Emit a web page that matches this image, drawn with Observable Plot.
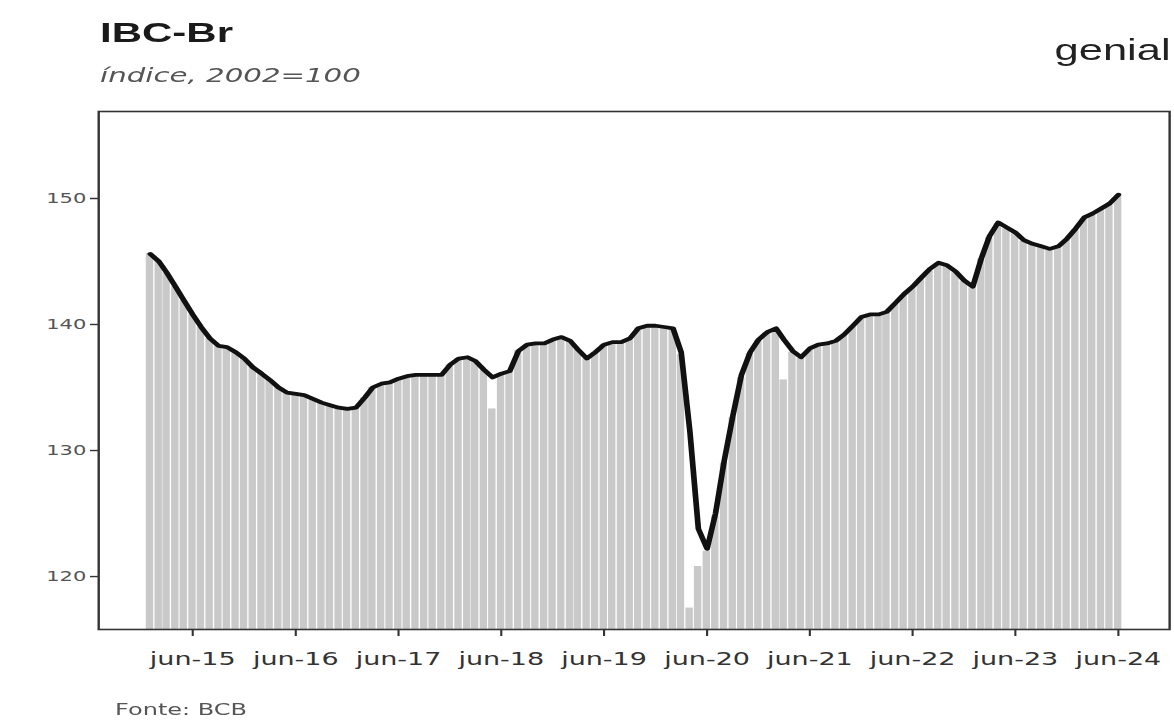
<!DOCTYPE html>
<html>
<head>
<meta charset="utf-8">
<script src="https://cdn.jsdelivr.net/npm/d3@7"></script>
<script src="https://cdn.jsdelivr.net/npm/@observablehq/plot@0.6"></script>
<style>
  html, body { margin: 0; padding: 0; background: #fff; overflow: hidden; }
  #wrap { position: relative; width: 782.67px; height: 722px; transform: scaleX(1.5); transform-origin: 0 0; }
  #header { position: relative; height: 96px; }
  .title { position: absolute; left: 66.7px; top: 19px; font: bold 28px "Liberation Sans", Arial, sans-serif; line-height: 28px; color: #1a1a1a; white-space: nowrap; }
  .subtitle { position: absolute; left: 66.7px; top: 65.5px; font: italic 19.5px "DejaVu Sans", sans-serif; line-height: 19.5px; color: #555; white-space: nowrap; }
  .logo { position: absolute; left: 703px; top: 36px; font: 29px "Liberation Sans", Arial, sans-serif; line-height: 29px; color: #222; white-space: nowrap; }
  #chart svg { display: block; }
  .caption { position: absolute; left: 76.7px; top: 702px; font: 16px "DejaVu Sans", sans-serif; line-height: 16px; color: #555; white-space: nowrap; }
</style>
</head>
<body>
<div id="wrap">
  <div id="header">
    <div class="title">IBC-Br</div>
    <div class="subtitle">índice, 2002=100</div>
    <div class="logo">genial</div>
  </div>
  <div id="chart"></div>
  <div class="caption">Fonte: BCB</div>
</div>
<script>
// ---- data ----
const startMonth = "2015-01-01";   // first month of the series (Jan 2015 .. Jun 2024)

// Monthly IBC-Br (bars)
const barValues = [
  145.6,145.0,144.1,143.0,141.9,140.8,139.8,138.9,138.3,138.2,137.8,137.3,
  136.6,136.1,135.6,135.0,134.6,134.5,134.4,134.1,133.8,133.6,133.4,133.3,
  133.4,134.2,135.0,135.3,135.4,135.7,135.9,136.0,136.0,136.0,136.0,136.8,
  137.3,137.4,137.1,136.4,133.3,136.1,136.3,137.9,138.4,138.5,138.5,138.8,
  139.0,138.7,138.0,137.3,137.8,138.4,138.6,138.6,138.9,139.7,139.9,139.9,
  139.8,139.7,137.6,117.5,120.8,122.0,124.8,129.0,132.6,135.8,137.7,138.7,
  139.3,139.6,135.6,137.8,137.3,138.0,138.3,138.4,138.6,139.1,139.8,140.5,
  140.7,140.7,140.9,141.6,142.3,142.9,143.6,144.3,144.8,144.6,144.1,143.4,
  142.9,145.2,146.9,148.0,147.6,147.2,146.6,146.3,146.1,145.9,146.1,146.7,
  147.5,148.4,148.7,149.1,149.5,150.2
];

// Smoothed series (black line)
const lineValues = [
  145.6,145.0,144.1,143.0,141.9,140.8,139.8,138.9,138.3,138.2,137.8,137.3,
  136.6,136.1,135.6,135.0,134.6,134.5,134.4,134.1,133.8,133.6,133.4,133.3,
  133.4,134.2,135.0,135.3,135.4,135.7,135.9,136.0,136.0,136.0,136.0,136.8,
  137.3,137.4,137.1,136.4,135.8,136.1,136.3,137.9,138.4,138.5,138.5,138.8,
  139.0,138.7,138.0,137.3,137.8,138.4,138.6,138.6,138.9,139.7,139.9,139.9,
  139.8,139.7,137.8,131.5,123.8,122.2,125.0,129.2,132.8,136.0,137.8,138.8,
  139.4,139.7,138.8,137.9,137.4,138.1,138.4,138.5,138.7,139.2,139.9,140.6,
  140.8,140.8,141.0,141.7,142.4,143.0,143.7,144.4,144.9,144.7,144.2,143.5,
  143.0,145.3,147.0,148.1,147.7,147.3,146.7,146.4,146.2,146.0,146.2,146.8,
  147.6,148.5,148.8,149.2,149.6,150.3
];

const xTickDates  = ["2015-06-01","2016-06-01","2017-06-01","2018-06-01","2019-06-01","2020-06-01","2021-06-01","2022-06-01","2023-06-01","2024-06-01"];
const xTickLabels = ["jun-15","jun-16","jun-17","jun-18","jun-19","jun-20","jun-21","jun-22","jun-23","jun-24"];
const yTicks = [120, 130, 140, 150];

// ---- build table ----
const start = new Date(startMonth);
const data = barValues.map((v, i) => ({
  date: d3.utcMonth.offset(start, i),
  bar: v,
  line: lineValues[i]
}));
const tickDates = xTickDates.map(s => new Date(s));
const labelByTime = new Map(tickDates.map((d, i) => [+d, xTickLabels[i]]));

const chart = Plot.plot({
  width: 782.67,
  height: 604,
  marginTop: 15,
  marginBottom: 71,
  marginLeft: 65.3,
  marginRight: 3.4,
  style: { fontFamily: "DejaVu Sans, sans-serif", fontSize: "18px", color: "#333", background: "#fff" },
  x: { type: "utc", domain: [new Date("2014-07-02"), new Date("2024-11-30")] },
  y: { domain: [115.8, 156.9] },
  marks: [
    Plot.rect(data, {
      x1: d => d3.utcDay.offset(d.date, -15),
      x2: d => d3.utcDay.offset(d.date, 15),
      y1: 0,
      y2: "bar",
      fill: "#c9c9c9",
      insetLeft: 0.35,
      insetRight: 0.35,
      clip: true
    }),
    Plot.lineY(data, { x: "date", y: "line", stroke: "#111", strokeWidth: 3.8, strokeLinejoin: "round", strokeLinecap: "round" }),
    Plot.frame({ stroke: "#333", strokeWidth: 1.6 }),
    Plot.axisX({ ticks: tickDates, tickFormat: d => labelByTime.get(+d), tickSize: 7, tickPadding: 16, label: null, fontSize: 18, stroke: "#333", strokeWidth: 1.4, fill: "#333" }),
    Plot.axisY({ ticks: yTicks, tickSize: 5.3, tickPadding: 3, label: null, fontSize: 14, stroke: "#333", strokeWidth: 1.4, fill: "#555" })
  ]
});
document.getElementById("chart").appendChild(chart);
</script>
</body>
</html>
